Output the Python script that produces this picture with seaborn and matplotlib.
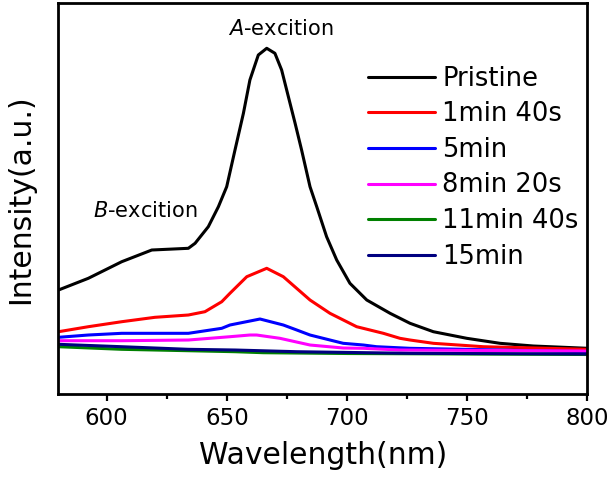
import numpy as np
import pandas as pd
import matplotlib
matplotlib.use("Agg")
import matplotlib.pyplot as plt
import seaborn as sns
from matplotlib.ticker import MultipleLocator, NullLocator

# --- spectra (wavelength in nm, intensity in a.u.) ---
pristine_wl = [580.0, 592.4, 606.3, 618.8, 634.0, 636.8, 642.3, 646.5, 649.95, 653.4,
               656.9, 659.6, 663.1, 666.6, 670.0, 672.8, 675.6, 678.4, 681.1, 684.6,
               687.4, 691.5, 695.7, 701.2, 708.2, 717.9, 726.2, 735.9, 749.8, 763.6,
               777.5, 800.0]
pristine_int = [1.04, 1.157, 1.323, 1.44, 1.457, 1.507, 1.673, 1.873, 2.073, 2.44,
                2.807, 3.14, 3.39, 3.457, 3.407, 3.24, 2.973, 2.707, 2.44, 2.073,
                1.873, 1.573, 1.34, 1.107, 0.94, 0.807, 0.707, 0.623, 0.557, 0.507,
                0.48, 0.457]

t100_wl = [580.0, 592.4, 606.3, 620.1, 634.0, 640.9, 647.9, 651.3, 658.3, 666.6,
           673.5, 684.6, 692.9, 704.0, 715.1, 722.0, 726.2, 735.9, 756.7, 800.0]
t100_int = [0.623, 0.673, 0.723, 0.767, 0.79, 0.823, 0.923, 1.007, 1.173, 1.257,
            1.173, 0.94, 0.807, 0.673, 0.607, 0.557, 0.54, 0.507, 0.473, 0.447]

t300_wl = [580.0, 592.4, 606.3, 620.1, 634.0, 647.9, 651.3, 663.8, 673.5, 679.1,
           684.6, 692.9, 698.4, 706.8, 712.3, 726.2, 763.6, 800.0]
t300_int = [0.567, 0.59, 0.607, 0.607, 0.607, 0.657, 0.69, 0.75, 0.69, 0.64,
            0.59, 0.54, 0.507, 0.49, 0.473, 0.457, 0.44, 0.423]

t500_wl = [580.0, 606.3, 634.0, 651.3, 659.6, 662.4, 672.1, 684.6, 698.4, 706.8,
           722.0, 800.0]
t500_int = [0.533, 0.533, 0.54, 0.573, 0.59, 0.59, 0.557, 0.49, 0.46, 0.457,
            0.44, 0.43]

t700_wl = [580.0, 606.3, 634.0, 653.4, 665.2, 700.0, 750.0, 800.0]
t700_int = [0.473, 0.447, 0.433, 0.423, 0.413, 0.405, 0.40, 0.395]

t900_wl = [580.0, 606.3, 634.0, 653.4, 679.1, 726.2, 800.0]
t900_int = [0.497, 0.473, 0.447, 0.44, 0.423, 0.407, 0.40]

labels = ["Pristine", "1min 40s", "5min", "8min 20s", "11min 40s", "15min"]
colors = ["#000000", "#ff0000", "#0000ff", "#ff00ff", "#008000", "#000080"]
series = [(pristine_wl, pristine_int), (t100_wl, t100_int), (t300_wl, t300_int),
          (t500_wl, t500_int), (t700_wl, t700_int), (t900_wl, t900_int)]

sns.set_style("ticks")
plt.rcParams["font.family"] = ["DejaVu Sans"]
plt.rcParams["mathtext.fontset"] = "dejavusans"
plt.rcParams["text.color"] = "black"
plt.rcParams["axes.labelcolor"] = "black"
plt.rcParams["xtick.color"] = "black"
plt.rcParams["ytick.color"] = "black"

fig, ax = plt.subplots(figsize=(6.1, 4.78), dpi=100)
fig.subplots_adjust(left=0.0959, right=0.9631, top=0.9927, bottom=0.1757)

for (wl, inten), lab, col in zip(series, labels, colors):
    df = pd.DataFrame({"wl": wl, "I": inten})
    sns.lineplot(data=df, x="wl", y="I", color=col, lw=2.2, label=lab, ax=ax)

ax.set_xlim(580, 800)
ax.set_ylim(0, 3.905)
ax.xaxis.set_major_locator(MultipleLocator(50))
ax.xaxis.set_minor_locator(MultipleLocator(25))
ax.yaxis.set_major_locator(NullLocator())
ax.tick_params(axis="x", which="major", direction="out", length=5, width=1.6,
               labelsize=16.5, pad=4, colors="black")
ax.tick_params(axis="x", which="minor", direction="out", length=3.5, width=1.6)
for sp in ax.spines.values():
    sp.set_visible(True)
    sp.set_linewidth(2)
    sp.set_color("black")

ax.set_xlabel("Wavelength(nm)", fontsize=21.5, labelpad=8, color="black")
ax.set_ylabel("Intensity(a.u.)", fontsize=21.5, labelpad=17, color="black")

ax.text(594.3, 1.77, r"$\mathit{B}$-excition", fontsize=15, ha="left", va="baseline")
ax.text(650.6, 3.59, r"$\mathit{A}$-excition", fontsize=15, ha="left", va="baseline")

leg = ax.legend(loc="upper left", bbox_to_anchor=(0.585, 0.84), frameon=False,
                fontsize=18.5, handlelength=2.6, handletextpad=0.3, labelspacing=0.37,
                borderpad=0, borderaxespad=0)
for t in leg.get_texts():
    t.set_color("black")

fig.savefig("out.png", dpi=100)
